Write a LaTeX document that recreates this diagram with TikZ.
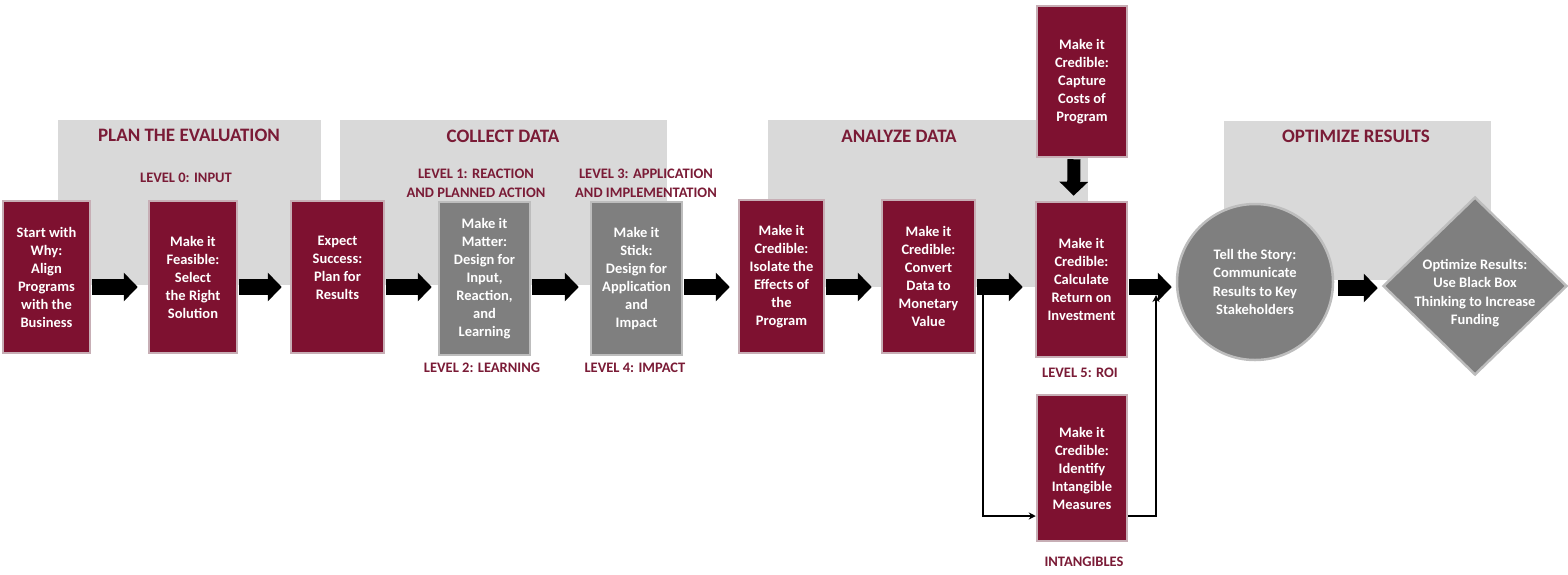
\documentclass[tikz,border=0pt]{standalone}
\usepackage{fontspec}
\setmainfont{Carlito}
\usetikzlibrary{shapes.geometric,arrows.meta}
\definecolor{maroon}{HTML}{7E1130}
\definecolor{boxedge}{HTML}{C7AEB5}
\definecolor{gbox}{HTML}{7F7F7F}
\definecolor{gedge}{HTML}{BDBDBD}
\definecolor{panel}{HTML}{D9D9D9}
\definecolor{titlecol}{HTML}{7A1B36}
\begin{document}
\begin{tikzpicture}[x=1pt,y=-1pt,
  panelbox/.style={rectangle, fill=panel, draw=none, inner sep=0pt},
  rbox/.style={rectangle, fill=maroon, draw=boxedge, line width=2.5pt, inner sep=0pt, align=center, text=white, font=\bfseries\fontsize{14.5}{18}\selectfont},
  gboxs/.style={rbox, fill=gbox, draw=gedge},
  boxtext/.style={align=center, text=white, inner sep=0pt, font=\bfseries\fontsize{14.5}{18.3}\selectfont},
  ptitle/.style={text=titlecol, inner sep=0pt, font=\bfseries\fontsize{19}{22}\selectfont},
  lvl/.style={text=titlecol, align=center, inner sep=0pt, font=\bfseries\fontsize{14.5}{19}\selectfont},
  bigarrow/.style={draw=black, line width=16pt, -{Triangle[length=14pt,width=28pt]}},
  thinarrow/.style={draw=black, line width=2pt, -{Stealth[length=7pt,width=7pt]}},
]
\useasboundingbox (0,0) rectangle (1568,574);
% panels
\node[panelbox, minimum width=263pt, minimum height=165pt] (p1) at (189.5,202.5) {};
\node[panelbox, minimum width=327pt, minimum height=165pt] (p2) at (503.5,202.5) {};
\node[panelbox, minimum width=320pt, minimum height=167pt] (p3) at (928,203.5) {};
\node[panelbox, minimum width=267pt, minimum height=159pt] (p4) at (1357.5,200.5) {};
% titles
\node[ptitle] (t1) at (189,135) {PLAN THE EVALUATION};
\node[ptitle] (t2) at (503,136) {COLLECT DATA};
\node[ptitle] (t3) at (899,136) {ANALYZE DATA};
\node[ptitle] (t4) at (1356,136) {OPTIMIZE RESULTS};
% level labels
\node[lvl] (l0) at (186,178) {LEVEL 0: INPUT};
\node[lvl] (l1) at (476,183.5) {LEVEL 1: REACTION\\AND PLANNED ACTION};
\node[lvl] (l3) at (646,183.5) {LEVEL 3: APPLICATION\\AND IMPLEMENTATION};
\node[lvl] (l2) at (482,368) {LEVEL 2: LEARNING};
\node[lvl] (l4) at (635,368) {LEVEL 4: IMPACT};
\node[lvl] (l5) at (1080,373) {LEVEL 5: ROI};
\node[lvl] (li) at (1084,562) {INTANGIBLES};
% boxes
\node[rbox, minimum width=87pt, minimum height=152pt] (b1) at (46.5,277) {Start with\\Why:\\Align\\Programs\\with the\\Business};
\node[rbox, minimum width=88pt, minimum height=152pt] (b2) at (193,277) {Make it\\Feasible:\\Select\\the Right\\Solution};
\node[rbox, minimum width=93pt, minimum height=152pt] (b3) at (337.5,277) {Expect\\Success:\\Plan for\\Results\\\mbox{}};
\node[gboxs, minimum width=91pt, minimum height=153pt] (b4) at (484.5,278.5) {Make it\\Matter:\\Design for\\Input,\\Reaction,\\and\\Learning};
\node[gboxs, minimum width=91pt, minimum height=153pt] (b5) at (636.5,278.5) {Make it\\Stick:\\Design for\\Application\\and\\Impact};
\node[rbox, minimum width=85pt, minimum height=153pt] (b6) at (781.5,276.5) {Make it\\Credible:\\Isolate the\\Effects of\\the\\Program};
\node[rbox, minimum width=93pt, minimum height=153pt] (b7) at (928.5,276.5) {Make it\\Credible:\\Convert\\Data to\\Monetary\\Value};
\node[rbox, minimum width=90pt, minimum height=151pt] (cap) at (1082,81.5) {Make it\\Credible:\\Capture\\Costs of\\Program};
\node[rbox, minimum width=91pt, minimum height=155pt] (roi) at (1081.5,279.5) {Make it\\Credible:\\Calculate\\Return on\\Investment};
\node[rbox, minimum width=90pt, minimum height=146pt] (intg) at (1082,468) {Make it\\Credible:\\Identify\\Intangible\\Measures};
% circle and diamond
\node[circle, fill=gbox, draw=gedge, line width=2.5pt, minimum size=156pt, inner sep=0pt] (circ) at (1255,282) {};
\node[boxtext] (circt) at (circ.center) {Tell the Story:\\Communicate\\Results to Key\\Stakeholders};
\node[diamond, fill=gbox, draw=gedge, line width=2.5pt, minimum width=184pt, minimum height=178pt, inner sep=0pt] (dia) at (1475,286) {};
\node[boxtext] (diat) at ([yshift=-7pt]dia.center) {Optimize Results:\\Use Black Box\\Thinking to Increase\\Funding};
% arrows
\coordinate (arrowy) at (0,287);
\draw[bigarrow, shorten <=1pt, shorten >=10pt] (b1.east |- arrowy) -- (b2.west |- arrowy);
\draw[bigarrow, shorten <=1pt, shorten >=8pt] (b2.east |- arrowy) -- (b3.west |- arrowy);
\draw[bigarrow, shorten <=1pt, shorten >=6pt] (b3.east |- arrowy) -- (b4.west |- arrowy);
\draw[bigarrow, shorten <=1pt, shorten >=11pt] (b4.east |- arrowy) -- (b5.west |- arrowy);
\draw[bigarrow, shorten <=1pt, shorten >=8pt] (b5.east |- arrowy) -- (b6.west |- arrowy);
\draw[bigarrow, shorten <=1pt, shorten >=9pt] (b6.east |- arrowy) -- (b7.west |- arrowy);
\draw[bigarrow, shorten <=1pt, shorten >=12pt] (b7.east |- arrowy) -- (roi.west |- arrowy);
\draw[bigarrow, shorten <=1pt, shorten >=4pt] (roi.east |- arrowy) -- (circ.west |- arrowy);
\draw[bigarrow, shorten <=4pt, shorten >=4pt] ([yshift=-1pt]circ.east |- arrowy) -- ([yshift=-1pt]dia.west |- arrowy);
\draw[bigarrow, line width=13pt, shorten <=1pt, shorten >=5pt] ([xshift=-8pt]cap.south) -- ([xshift=-8pt]roi.north);
% thin connectors
\coordinate (split) at (983,289);
\coordinate (join) at (1156,295);
\draw[thinarrow] (split) |- ([yshift=-48pt]intg.west);
\draw[thinarrow] ([yshift=-48pt]intg.east) -| (join);
\end{tikzpicture}
\end{document}
